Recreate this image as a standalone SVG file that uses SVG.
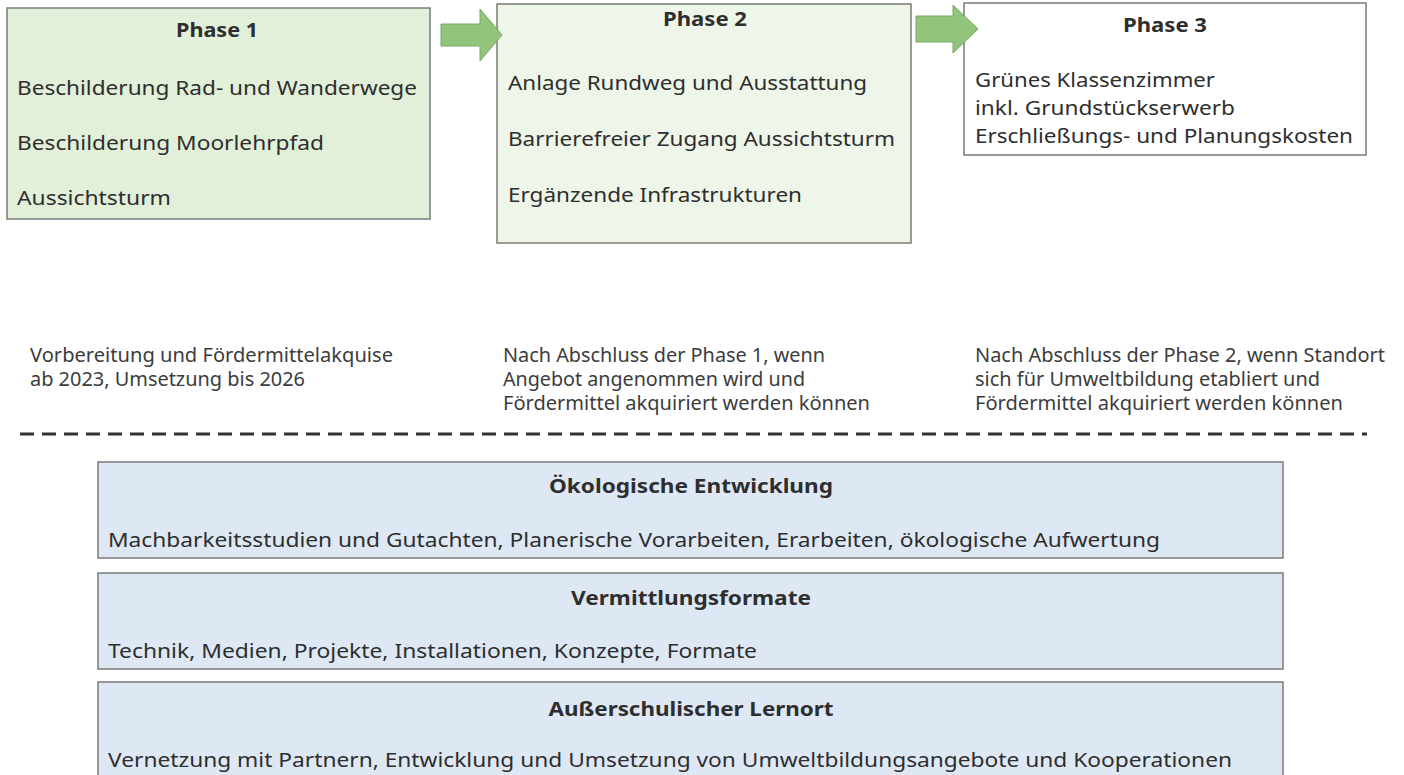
<svg xmlns="http://www.w3.org/2000/svg" width="1404" height="775" viewBox="0 0 1404 775">
<style>
text{font-family:"Noto Sans","Open Sans","Liberation Sans",sans-serif;fill:#2e2e2e}
.t{font-size:19px;font-weight:bold;text-anchor:middle}
.b{font-size:19px}
.d{font-size:19px;fill:#3c3c3c}
.box{stroke:#7a7a7a;stroke-width:1.5}
.g1{fill:#e2efd9}
.g2{fill:#eef5e9}
.w{fill:#ffffff}
.bl{fill:#dde8f4}
.arrow{fill:#92c47c;stroke:#76a862;stroke-width:1}
</style>
<rect width="1404" height="775" fill="#ffffff"/>
<g id="phase1">
<rect class="box g1" x="7" y="8" width="423" height="211"/>
<text class="t" x="217" y="37" textLength="82" lengthAdjust="spacingAndGlyphs">Phase 1</text>
<text class="b" x="17" y="95" textLength="400" lengthAdjust="spacingAndGlyphs">Beschilderung Rad- und Wanderwege</text>
<text class="b" x="17" y="150" textLength="307" lengthAdjust="spacingAndGlyphs">Beschilderung Moorlehrpfad</text>
<text class="b" x="17" y="205" textLength="154" lengthAdjust="spacingAndGlyphs">Aussichtsturm</text>
</g>
<g id="phase2">
<rect class="box g2" x="497" y="4" width="414" height="239"/>
<text class="t" x="705" y="26" textLength="84" lengthAdjust="spacingAndGlyphs">Phase 2</text>
<text class="b" x="508" y="90" textLength="359" lengthAdjust="spacingAndGlyphs">Anlage Rundweg und Ausstattung</text>
<text class="b" x="508" y="146" textLength="387" lengthAdjust="spacingAndGlyphs">Barrierefreier Zugang Aussichtsturm</text>
<text class="b" x="508" y="202" textLength="294" lengthAdjust="spacingAndGlyphs">Ergänzende Infrastrukturen</text>
</g>
<g id="phase3">
<rect class="box w" x="964" y="3" width="402" height="152"/>
<text class="t" x="1165" y="32" textLength="84" lengthAdjust="spacingAndGlyphs">Phase 3</text>
<text class="b" x="975" y="87" textLength="240" lengthAdjust="spacingAndGlyphs">Grünes Klassenzimmer</text>
<text class="b" x="975" y="115" textLength="260" lengthAdjust="spacingAndGlyphs">inkl. Grundstückserwerb</text>
<text class="b" x="975" y="143" textLength="378" lengthAdjust="spacingAndGlyphs">Erschließungs- und Planungskosten</text>
</g>
<g id="connectors">
<polygon class="arrow" points="441,24 480,24 480,9 502,35 480,61 480,46 441,46"/>
<polygon class="arrow" points="916,16 953,16 953,5 978,29 953,53 953,42 916,42"/>
<line x1="20" y1="434" x2="1367" y2="434" stroke="#333333" stroke-width="3" stroke-dasharray="14 8"/>
</g>
<g id="desc1">
<text class="d" x="30" y="362" textLength="363" lengthAdjust="spacingAndGlyphs">Vorbereitung und Fördermittelakquise</text>
<text class="d" x="30" y="386" textLength="275" lengthAdjust="spacingAndGlyphs">ab 2023, Umsetzung bis 2026</text>
</g>
<g id="desc2">
<text class="d" x="503" y="362" textLength="322" lengthAdjust="spacingAndGlyphs">Nach Abschluss der Phase 1, wenn</text>
<text class="d" x="503" y="386" textLength="302" lengthAdjust="spacingAndGlyphs">Angebot angenommen wird und</text>
<text class="d" x="503" y="410" textLength="367" lengthAdjust="spacingAndGlyphs">Fördermittel akquiriert werden können</text>
</g>
<g id="desc3">
<text class="d" x="975" y="362" textLength="410" lengthAdjust="spacingAndGlyphs">Nach Abschluss der Phase 2, wenn Standort</text>
<text class="d" x="975" y="386" textLength="345" lengthAdjust="spacingAndGlyphs">sich für Umweltbildung etabliert und</text>
<text class="d" x="975" y="410" textLength="368" lengthAdjust="spacingAndGlyphs">Fördermittel akquiriert werden können</text>
</g>
<g id="oeko">
<rect class="box bl" x="98" y="462" width="1185" height="96"/>
<text class="t" x="691" y="493" textLength="284" lengthAdjust="spacingAndGlyphs">Ökologische Entwicklung</text>
<text class="b" x="108" y="547" textLength="1052" lengthAdjust="spacingAndGlyphs">Machbarkeitsstudien und Gutachten, Planerische Vorarbeiten, Erarbeiten, ökologische Aufwertung</text>
</g>
<g id="vermittlung">
<rect class="box bl" x="98" y="573" width="1185" height="96"/>
<text class="t" x="691" y="605" textLength="240" lengthAdjust="spacingAndGlyphs">Vermittlungsformate</text>
<text class="b" x="108" y="658" textLength="649" lengthAdjust="spacingAndGlyphs">Technik, Medien, Projekte, Installationen, Konzepte, Formate</text>
</g>
<g id="lernort">
<rect class="box bl" x="98" y="682" width="1185" height="100"/>
<text class="t" x="691" y="716" textLength="285" lengthAdjust="spacingAndGlyphs">Außerschulischer Lernort</text>
<text class="b" x="108" y="767" textLength="1124" lengthAdjust="spacingAndGlyphs">Vernetzung mit Partnern, Entwicklung und Umsetzung von Umweltbildungsangebote und Kooperationen</text>
</g>
</svg>
